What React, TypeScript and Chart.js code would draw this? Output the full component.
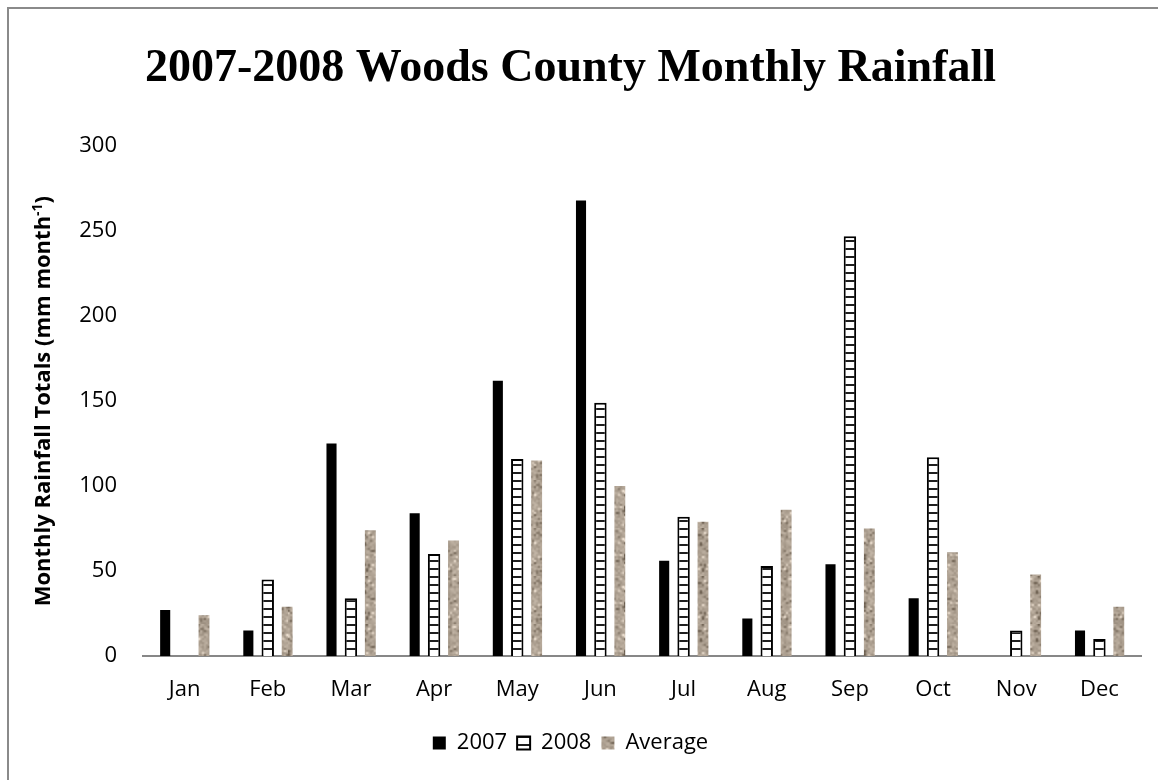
import { useEffect, useRef } from "react";
import { Chart, registerables } from "chart.js";

Chart.register(...registerables);

// Monthly rainfall, mm per month
const MONTHS = ["Jan", "Feb", "Mar", "Apr", "May", "Jun", "Jul", "Aug", "Sep", "Oct", "Nov", "Dec"];
const RAIN_2007: (number | null)[] = [27, 15, 125, 84, 162, 268, 56, 22, 54, 34, null, 15];
const RAIN_2008: (number | null)[] = [null, 45, 34, 60, 116, 149, 82, 53, 247, 117, 15, 10];
const RAIN_AVG: number[] = [24, 29, 74, 68, 115, 100, 79, 86, 75, 61, 48, 29];
const Y_MIN = 0;
const Y_MAX = 300;
const Y_STEP = 50;

const TITLE = "2007-2008 Woods County Monthly Rainfall";
const Y_TITLE_MAIN = "Monthly Rainfall Totals (mm month";
const Y_TITLE_SUP = "-1";
const Y_TITLE_END = ")";

const SANS = "'Open Sans', 'Noto Sans', sans-serif";

// Horizontal-stripe fill used for the 2008 bars
function stripePattern(ctx: CanvasRenderingContext2D): CanvasPattern | string {
  const c = document.createElement("canvas");
  c.width = 8;
  c.height = 8;
  const g = c.getContext("2d");
  if (!g) return "#fff";
  g.fillStyle = "#ffffff";
  g.fillRect(0, 0, 8, 8);
  g.fillStyle = "#1e1e1e";
  g.fillRect(0, 0, 8, 2);
  return ctx.createPattern(c, "repeat") || "#fff";
}

// Speckled granite fill used for the long-term average bars
function granitePattern(ctx: CanvasRenderingContext2D): CanvasPattern | string {
  const small = 24;
  const src = document.createElement("canvas");
  src.width = small;
  src.height = small;
  const sg = src.getContext("2d");
  if (!sg) return "#b0a596";
  const img = sg.createImageData(small, small);
  let seed = 20071;
  const next = () => {
    seed = (seed * 1103515245 + 12345) & 0x7fffffff;
    return seed / 0x7fffffff;
  };
  for (let i = 0; i < small * small; i++) {
    const r = next();
    let d = (next() - 0.5) * 40;
    if (r < 0.08) d -= 60;
    else if (r > 0.965) d += 60;
    img.data[i * 4] = Math.max(0, Math.min(255, 176 + d));
    img.data[i * 4 + 1] = Math.max(0, Math.min(255, 163 + d));
    img.data[i * 4 + 2] = Math.max(0, Math.min(255, 148 + d));
    img.data[i * 4 + 3] = 255;
  }
  sg.putImageData(img, 0, 0);
  const size = small * 2;
  const c = document.createElement("canvas");
  c.width = size;
  c.height = size;
  const g = c.getContext("2d");
  if (!g) return "#b0a596";
  g.imageSmoothingEnabled = true;
  g.drawImage(src, 0, 0, size, size);
  return ctx.createPattern(c, "repeat") || "#b0a596";
}

// Rotated y-axis title with a superscript exponent
const yTitlePlugin = {
  id: "yTitleWithSup",
  afterDraw(chart: Chart) {
    const { ctx, chartArea } = chart;
    const cy = (chartArea.top + chartArea.bottom) / 2;
    const mainFont = `bold 22px ${SANS}`;
    const supFont = `bold 14px ${SANS}`;
    ctx.save();
    ctx.translate(42, cy);
    ctx.rotate(-Math.PI / 2);
    ctx.fillStyle = "#000";
    ctx.textBaseline = "alphabetic";
    ctx.textAlign = "left";
    ctx.font = mainFont;
    const w1 = ctx.measureText(Y_TITLE_MAIN).width;
    const w3 = ctx.measureText(Y_TITLE_END).width;
    ctx.font = supFont;
    const w2 = ctx.measureText(Y_TITLE_SUP).width;
    const start = -(w1 + w2 + w3) / 2;
    const base = 8;
    ctx.font = mainFont;
    ctx.fillText(Y_TITLE_MAIN, start, base);
    ctx.font = supFont;
    ctx.fillText(Y_TITLE_SUP, start + w1, base - 8);
    ctx.font = mainFont;
    ctx.fillText(Y_TITLE_END, start + w1 + w2, base);
    ctx.restore();
  },
};

export default function App() {
  const canvasRef = useRef<HTMLCanvasElement | null>(null);

  useEffect(() => {
    document.documentElement.style.overflow = "hidden";
    const canvas = canvasRef.current;
    if (!canvas) return;
    const ctx = canvas.getContext("2d");
    if (!ctx) return;

    const stripes = stripePattern(ctx);
    const granite = granitePattern(ctx);

    const chart = new Chart(ctx, {
      type: "bar",
      data: {
        labels: MONTHS,
        datasets: [
          {
            label: "2007",
            data: RAIN_2007,
            backgroundColor: "#000000",
            borderWidth: 0,
            barPercentage: 0.52,
          },
          {
            label: "2008",
            data: RAIN_2008,
            backgroundColor: stripes,
            borderColor: "#000000",
            borderWidth: 2,
            barPercentage: 0.64,
          },
          {
            label: "Average",
            data: RAIN_AVG,
            backgroundColor: granite,
            borderWidth: 0,
            barPercentage: 0.56,
          },
        ],
      },
      options: {
        responsive: true,
        maintainAspectRatio: false,
        animation: false,
        events: [],
        layout: { padding: { left: 0, right: 17, top: 0, bottom: 16 } },
        datasets: { bar: { categoryPercentage: 0.7 } },
        scales: {
          x: {
            grid: { display: false, drawTicks: false },
            border: { display: true, color: "#878787", width: 2 },
            ticks: {
              color: "#000",
              font: { family: SANS, size: 22 },
              padding: 21,
              maxRotation: 0,
              autoSkip: false,
            },
            afterFit: (s: any) => {
              s.height = 66;
            },
          },
          y: {
            min: Y_MIN,
            max: Y_MAX,
            grid: { display: false, drawTicks: false },
            border: { display: false },
            ticks: {
              stepSize: Y_STEP,
              color: "#000",
              font: { family: SANS, size: 22 },
              padding: 26,
            },
            afterFit: (s: any) => {
              s.width = 143;
            },
          },
        },
        plugins: {
          title: {
            display: true,
            text: TITLE,
            color: "#000",
            font: { family: "'Liberation Serif', 'Times New Roman', serif", size: 46, weight: "bold" },
            padding: { top: 42, bottom: 49 },
          },
          legend: {
            position: "bottom",
            labels: {
              color: "#000",
              font: { family: SANS, size: 22 },
              boxWidth: 13,
              boxHeight: 13,
              padding: 10,
            },
          },
          tooltip: { enabled: false },
        },
      },
      plugins: [yTitlePlugin],
    });

    return () => chart.destroy();
  }, []);

  return (
    <>
      <div
        style={{
          position: "fixed",
          left: 7,
          top: 7,
          width: 1300,
          height: 900,
          borderLeft: "2px solid #8a8a8a",
          borderTop: "2px solid #8a8a8a",
          boxSizing: "border-box",
        }}
      />
      <div style={{ position: "fixed", left: 0, top: 0, width: 1158, height: 780 }}>
        <canvas ref={canvasRef} />
      </div>
    </>
  );
}
